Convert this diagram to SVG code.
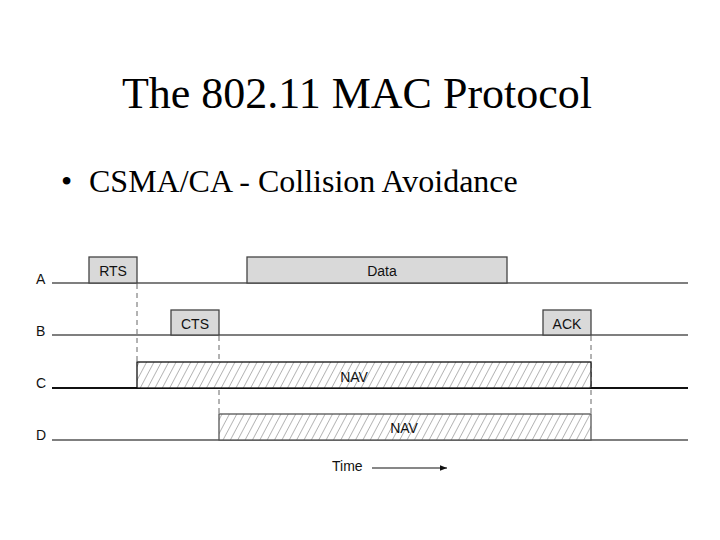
<svg xmlns="http://www.w3.org/2000/svg" width="720" height="540" viewBox="0 0 720 540">
<style>
.title{font-family:"Liberation Serif","Times New Roman",serif;fill:#000}
.lbl{font-family:"Liberation Sans",Arial,sans-serif;font-size:14px;fill:#111}
.axis{font-family:"Liberation Sans",Arial,sans-serif;font-size:14px;fill:#111}
.frame{fill:#d9d9d9;stroke:#444;stroke-width:1.3}
.nav{fill:url(#hatch);stroke-width:1.3}
.line{stroke:#555;stroke-width:1.5}
.dash{stroke:#666;stroke-width:1;stroke-dasharray:5,4;fill:none}
</style>
<defs>
<pattern id="hatch" patternUnits="userSpaceOnUse" width="6.5" height="6.5" patternTransform="rotate(28)">
<rect width="6.5" height="6.5" fill="#fff"/>
<line x1="0" y1="0" x2="0" y2="6.5" stroke="#a8a8a8" stroke-width="1.6"/>
</pattern>
<marker id="arr" viewBox="0 0 10 10" refX="10" refY="5" markerWidth="12" markerHeight="7" orient="auto" markerUnits="userSpaceOnUse">
<path d="M0,1 L10,5 L0,9 Z" fill="#111"/>
</marker>
</defs>
<rect width="720" height="540" fill="#fff"/>
<text class="title" x="357" y="108" font-size="44" text-anchor="middle">The 802.11 MAC Protocol</text>
<text class="title" x="61" y="192" font-size="32">•</text>
<text class="title" x="89" y="192" font-size="32">CSMA/CA - Collision Avoidance</text>

<g id="timelines">
<line class="line" x1="52" y1="283" x2="688" y2="283"/>
<line class="line" x1="52" y1="335" x2="688" y2="335"/>
<line x1="52" y1="388" x2="688" y2="388" stroke="#111" stroke-width="2"/>
<line class="line" x1="52" y1="440" x2="688" y2="440"/>
<text class="axis" x="36" y="284">A</text>
<text class="axis" x="36" y="336">B</text>
<text class="axis" x="36" y="388">C</text>
<text class="axis" x="36" y="440">D</text>
</g>

<g id="connectors">
<line class="dash" x1="137" y1="284" x2="137" y2="362"/>
<line class="dash" x1="219" y1="336" x2="219" y2="414"/>
<line class="dash" x1="591" y1="336" x2="591" y2="414"/>
</g>

<g id="rts"><rect class="frame" x="89" y="257" width="48" height="26"/><text class="lbl" x="113" y="276" text-anchor="middle">RTS</text></g>
<g id="data"><rect class="frame" x="247" y="257" width="260" height="26"/><text class="lbl" x="382" y="276" text-anchor="middle">Data</text></g>
<g id="cts"><rect class="frame" x="171" y="310" width="48" height="25"/><text class="lbl" x="195" y="329" text-anchor="middle">CTS</text></g>
<g id="ack"><rect class="frame" x="543" y="310" width="48" height="25"/><text class="lbl" x="567" y="329" text-anchor="middle">ACK</text></g>
<g id="navC"><rect class="nav" x="137" y="362" width="454" height="26" stroke="#111"/><text class="lbl" x="354" y="382" text-anchor="middle">NAV</text></g>
<g id="navD"><rect class="nav" x="219" y="414" width="372" height="26" stroke="#555"/><text class="lbl" x="404" y="433" text-anchor="middle">NAV</text></g>

<g id="time">
<text class="lbl" x="332" y="471">Time</text>
<line x1="372" y1="468" x2="447" y2="468" stroke="#111" stroke-width="1.2" marker-end="url(#arr)"/>
</g>
</svg>
